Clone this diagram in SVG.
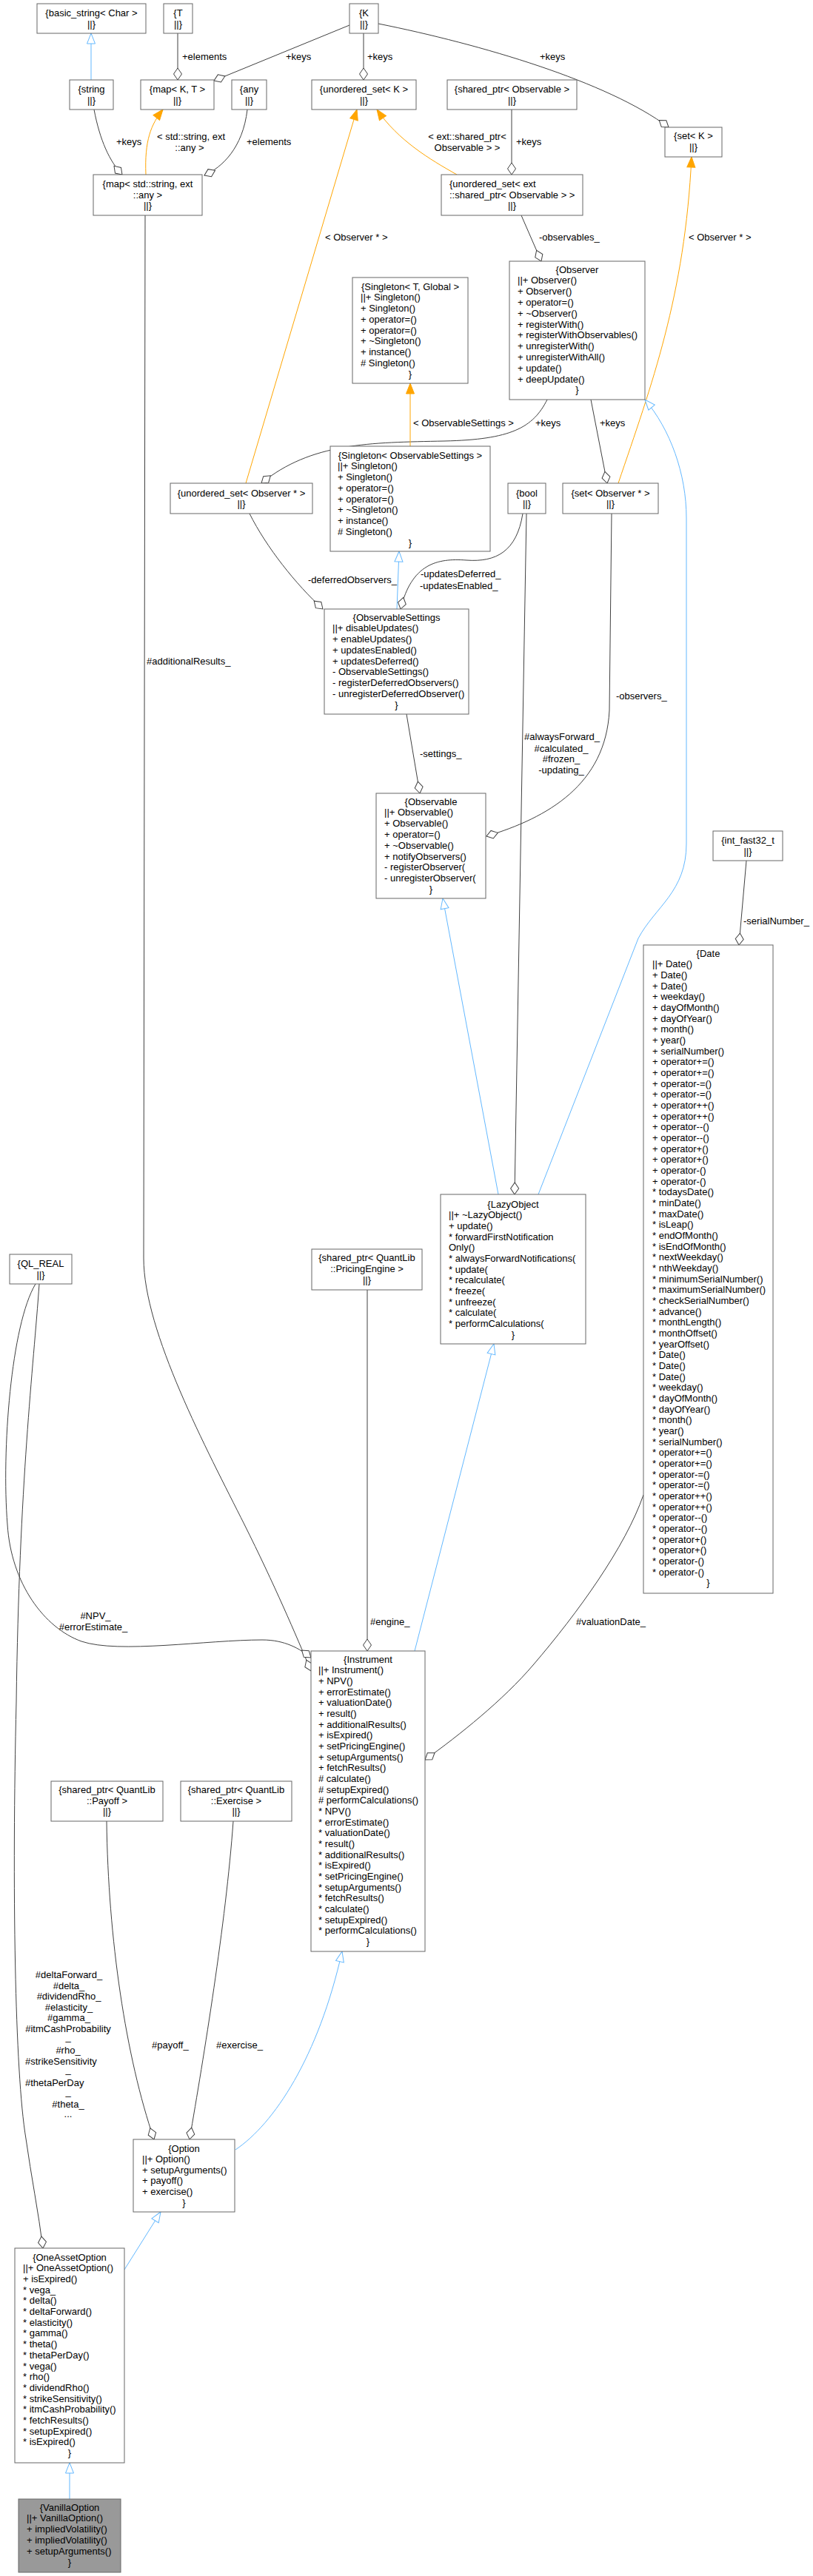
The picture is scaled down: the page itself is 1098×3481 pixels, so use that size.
<svg xmlns="http://www.w3.org/2000/svg" width="1098" height="3481" viewBox="0 0 1098 3481">
<style>
text{font-family:"Liberation Sans",Arial,Helvetica,sans-serif;font-size:13px;fill:#000}
.c{text-anchor:middle}
.n rect{fill:#fff;stroke:#666;stroke-width:1}
.hl rect{fill:#999;stroke:#666;stroke-width:1}
.e{fill:none;stroke:#404040;stroke-width:1}
.i{fill:none;stroke:#63b8ff;stroke-width:1}
.t{fill:none;stroke:#ffa500;stroke-width:1}
.e{marker-end:url(#dia)}
.i{marker-end:url(#inh)}
.t{marker-end:url(#tpl)}
</style>
<defs>
<marker id="dia" viewBox="-18 -7 20 14" refX="0" refY="0" markerWidth="20" markerHeight="14" markerUnits="userSpaceOnUse" orient="auto"><path d="M0,0 L-8,-5.5 L-16,0 L-8,5.5 Z" fill="#fff" stroke="#404040"/></marker>
<marker id="inh" viewBox="-16 -7 18 14" refX="0" refY="0" markerWidth="18" markerHeight="14" markerUnits="userSpaceOnUse" orient="auto"><path d="M0,0 L-14,-5.5 L-14,5.5 Z" fill="#fff" stroke="#63b8ff"/></marker>
<marker id="tpl" viewBox="-16 -7 18 14" refX="0" refY="0" markerWidth="18" markerHeight="14" markerUnits="userSpaceOnUse" orient="auto"><path d="M0,0 L-14,-5.5 L-14,5.5 Z" fill="#ffa500" stroke="#ffa500"/></marker>
</defs>
<rect x="0" y="0" width="1098" height="3481" fill="#fff"/>

<g id="edges">
<path class="i" d="M123,108 L123,45"/>
<path class="e" d="M240,45 L240,108"/>
<text x="246" y="80.5">+elements</text>
<path class="e" d="M472,34 L289,109"/>
<text x="386" y="80.5">+keys</text>
<path class="e" d="M491,45 L491,108"/>
<text x="496" y="80.5">+keys</text>
<path class="e" d="M511,32 C650,60 820,110 903,172"/>
<text x="729" y="80.5">+keys</text>
<path class="e" d="M691,148 L691,236"/>
<text x="697" y="195.5">+keys</text>
<path class="e" d="M127,148 C135,190 148,218 165,236"/>
<text x="157" y="195.5">+keys</text>
<path class="e" d="M334,148 C328,200 300,226 276,237"/>
<text x="333" y="195.5">+elements</text>
<path class="t" d="M197,236 C195,190 204,168 220,148"/>
<text class="c" x="258" y="188.5">&lt; std::string, ext</text>
<text class="c" x="256" y="203.5">::any &gt;</text>
<path class="t" d="M617,236 C580,215 538,190 509,148"/>
<text class="c" x="631" y="188.5">&lt; ext::shared_ptr&lt;</text>
<text class="c" x="631" y="203.5">Observable &gt; &gt;</text>
<path class="t" d="M332,653 L482,148"/>
<text x="439" y="324.5">&lt; Observer * &gt;</text>
<path class="t" d="M835,653 C880,520 925,400 934,212"/>
<text x="930" y="324.5">&lt; Observer * &gt;</text>
<path class="e" d="M704,291 L731,353"/>
<text x="728" y="324.5">-observables_</text>
<path class="e" d="M739,540 C720,578 690,594 600,596 C500,598 420,598 353,653"/>
<text x="723" y="575.5">+keys</text>
<path class="e" d="M798,540 L820,653"/>
<text x="810" y="575.5">+keys</text>
<path class="t" d="M554,603 L554,518"/>
<text x="558" y="575.5">&lt; ObservableSettings &gt;</text>
<path class="e" d="M337,694 C360,740 400,790 436,823"/>
<text x="416" y="787.5">-deferredObservers_</text>
<path class="i" d="M536,823 L539,745"/>
<path class="e" d="M706,694 C698,745 670,760 630,757 C590,754 556,762 541,823"/>
<text x="568" y="779.5">-updatesDeferred_</text>
<text x="567" y="795.5">-updatesEnabled_</text>
<path class="e" d="M711,694 L695,1614"/>
<text class="c" x="759" y="999.5">#alwaysForward_</text>
<text class="c" x="758" y="1015.5">#calculated_</text>
<text class="c" x="758" y="1029.5">#frozen_</text>
<text class="c" x="758" y="1044.5">-updating_</text>
<path class="e" d="M549,965 L567,1072"/>
<text x="567" y="1022.5">-settings_</text>
<path class="e" d="M826,694 L823,960 C818,1060 740,1105 657,1130"/>
<text x="832" y="944.5">-observers_</text>
<path class="i" d="M673,1614 L598,1214"/>
<path class="i" d="M727,1614 L862,1268 C885,1225 927,1205 927,1140 L927,700 C927,640 905,580 871,540"/>
<path class="e" d="M1008,1163 L998,1277"/>
<text x="1004" y="1248.5">-serialNumber_</text>
<path class="e" d="M196,291 L194,1700 C194,1800 280,1960 330,2060 C370,2140 400,2210 420,2258"/>
<text x="198" y="897.5">#additionalResults_</text>
<path class="e" d="M48,1735 C15,1790 2,1960 10,2060 C15,2140 60,2200 110,2218 C160,2235 280,2216 354,2216 C385,2216 405,2228 420,2240"/>
<text class="c" x="129" y="2187.5">#NPV_</text>
<text class="c" x="126" y="2202.5">#errorEstimate_</text>
<path class="e" d="M53,1735 C45,1850 26,2000 22,2300 C16,2550 20,2800 35,2890 C42,2940 52,2990 58,3038"/>
<text class="c" x="93" y="2672.5">#deltaForward_</text>
<text class="c" x="93" y="2687.5">#delta_</text>
<text class="c" x="93" y="2701.5">#dividendRho_</text>
<text class="c" x="93" y="2716.5">#elasticity_</text>
<text class="c" x="93" y="2730.5">#gamma_</text>
<text class="c" x="92" y="2745.5">#itmCashProbability</text>
<text class="c" x="92" y="2757">_</text>
<text class="c" x="92" y="2774.5">#rho_</text>
<text x="34" y="2789.5">#strikeSensitivity</text>
<text class="c" x="92" y="2801">_</text>
<text x="34" y="2818.5">#thetaPerDay</text>
<text class="c" x="92" y="2831">_</text>
<text class="c" x="92" y="2847.5">#theta_</text>
<text class="c" x="92" y="2861">...</text>
<path class="i" d="M560,2231 L667,1816"/>
<path class="e" d="M496,1743 L496,2231"/>
<text x="500" y="2195.5">#engine_</text>
<path class="e" d="M869,2020 C845,2090 780,2180 720,2250 C680,2297 620,2345 574,2378"/>
<text x="778" y="2195.5">#valuationDate_</text>
<path class="e" d="M144,2461 C146,2620 170,2780 208,2891"/>
<text x="205" y="2767.5">#payoff_</text>
<path class="e" d="M315,2461 C305,2600 275,2780 256,2891"/>
<text x="292" y="2767.5">#exercise_</text>
<path class="i" d="M318,2905 C370,2870 430,2780 462,2637"/>
<path class="i" d="M168,3067 L217,2989"/>
<path class="i" d="M94,3377 L94,3328"/>
</g>

<g id="basic_string" class="n"><rect x="50" y="5" width="147" height="40"/><text class="c" x="123.5" y="21.5">{basic_string&lt; Char &gt;</text><text class="c" x="123.5" y="36.5">||}</text></g>
<g id="T" class="n"><rect x="221" y="5" width="39" height="40"/><text class="c" x="240.5" y="21.5">{T</text><text class="c" x="240.5" y="36.5">||}</text></g>
<g id="K" class="n"><rect x="472" y="5" width="39" height="40"/><text class="c" x="491.5" y="21.5">{K</text><text class="c" x="491.5" y="36.5">||}</text></g>
<g id="string" class="n"><rect x="94" y="108" width="59" height="40"/><text class="c" x="123.5" y="124.5">{string</text><text class="c" x="123.5" y="139.5">||}</text></g>
<g id="map_K_T" class="n"><rect x="190" y="108" width="99" height="40"/><text class="c" x="239.5" y="124.5">{map&lt; K, T &gt;</text><text class="c" x="239.5" y="139.5">||}</text></g>
<g id="any" class="n"><rect x="313" y="108" width="47" height="40"/><text class="c" x="336.5" y="124.5">{any</text><text class="c" x="336.5" y="139.5">||}</text></g>
<g id="unordered_set_K" class="n"><rect x="421" y="108" width="141" height="40"/><text class="c" x="491.5" y="124.5">{unordered_set&lt; K &gt;</text><text class="c" x="491.5" y="139.5">||}</text></g>
<g id="shared_ptr_Observable" class="n"><rect x="604" y="108" width="175" height="40"/><text class="c" x="691.5" y="124.5">{shared_ptr&lt; Observable &gt;</text><text class="c" x="691.5" y="139.5">||}</text></g>
<g id="set_K" class="n"><rect x="898" y="172" width="77" height="40"/><text class="c" x="936.5" y="187.5">{set&lt; K &gt;</text><text class="c" x="936.5" y="203">||}</text></g>
<g id="map_string_any" class="n"><rect x="126" y="236" width="147" height="55"/><text class="c" x="199.5" y="252.5">{map&lt; std::string, ext</text><text class="c" x="199.5" y="267.5">::any &gt;</text><text class="c" x="199.5" y="281.5">||}</text></g>
<g id="unordered_set_shared_ptr_Observable" class="n"><rect x="596" y="236" width="191" height="55"/><text x="607" y="252.5">{unordered_set&lt; ext</text><text x="607" y="267.5">::shared_ptr&lt; Observable &gt; &gt;</text><text class="c" x="691.5" y="281.5">||}</text></g>

<g id="Observer" class="n"><rect x="688" y="353" width="183" height="187"/>
<text class="c" x="779.5" y="368.5">{Observer</text>
<text x="699" y="383.3">||+ Observer()</text>
<text x="699" y="398.1">+ Observer()</text>
<text x="699" y="412.9">+ operator=()</text>
<text x="699" y="427.7">+ ~Observer()</text>
<text x="699" y="442.5">+ registerWith()</text>
<text x="699" y="457.3">+ registerWithObservables()</text>
<text x="699" y="472.1">+ unregisterWith()</text>
<text x="699" y="486.9">+ unregisterWithAll()</text>
<text x="699" y="501.7">+ update()</text>
<text x="699" y="516.5">+ deepUpdate()</text>
<text class="c" x="779.5" y="531.3">}</text></g>

<g id="Singleton_T_Global" class="n"><rect x="476" y="375" width="156" height="143"/>
<text class="c" x="554" y="391.5">{Singleton&lt; T, Global &gt;</text>
<text x="487" y="406.3">||+ Singleton()</text>
<text x="487" y="421">+ Singleton()</text>
<text x="487" y="435.8">+ operator=()</text>
<text x="487" y="450.5">+ operator=()</text>
<text x="487" y="465.3">+ ~Singleton()</text>
<text x="487" y="480">+ instance()</text>
<text x="487" y="494.8"># Singleton()</text>
<text class="c" x="554" y="509.5">}</text></g>

<g id="unordered_set_Observer" class="n"><rect x="230" y="653" width="192" height="41"/><text class="c" x="326" y="670.5">{unordered_set&lt; Observer * &gt;</text><text class="c" x="326" y="685">||}</text></g>

<g id="Singleton_ObservableSettings" class="n"><rect x="446" y="603" width="216" height="142"/>
<text class="c" x="554" y="619.5">{Singleton&lt; ObservableSettings &gt;</text>
<text x="456" y="634.3">||+ Singleton()</text>
<text x="456" y="649">+ Singleton()</text>
<text x="456" y="663.8">+ operator=()</text>
<text x="456" y="678.5">+ operator=()</text>
<text x="456" y="693.3">+ ~Singleton()</text>
<text x="456" y="708">+ instance()</text>
<text x="456" y="722.8"># Singleton()</text>
<text class="c" x="554" y="737.5">}</text></g>

<g id="bool" class="n"><rect x="686" y="653" width="51" height="41"/><text class="c" x="711.5" y="670.5">{bool</text><text class="c" x="711.5" y="685">||}</text></g>
<g id="set_Observer" class="n"><rect x="760" y="653" width="129" height="41"/><text class="c" x="824.5" y="670.5">{set&lt; Observer * &gt;</text><text class="c" x="824.5" y="685">||}</text></g>

<g id="ObservableSettings" class="n"><rect x="438" y="823" width="195" height="142"/>
<text class="c" x="535.5" y="838.5">{ObservableSettings</text>
<text x="449" y="853.3">||+ disableUpdates()</text>
<text x="449" y="868">+ enableUpdates()</text>
<text x="449" y="882.8">+ updatesEnabled()</text>
<text x="449" y="897.5">+ updatesDeferred()</text>
<text x="449" y="912.3">- ObservableSettings()</text>
<text x="449" y="927">- registerDeferredObservers()</text>
<text x="449" y="941.8">- unregisterDeferredObserver()</text>
<text class="c" x="535.5" y="956.5">}</text></g>

<g id="Observable" class="n"><rect x="508" y="1072" width="148" height="142"/>
<text class="c" x="582" y="1087.5">{Observable</text>
<text x="519" y="1102.4">||+ Observable()</text>
<text x="519" y="1117.2">+ Observable()</text>
<text x="519" y="1132">+ operator=()</text>
<text x="519" y="1146.8">+ ~Observable()</text>
<text x="519" y="1161.6">+ notifyObservers()</text>
<text x="519" y="1176.4">- registerObserver(</text>
<text x="519" y="1191.2">- unregisterObserver(</text>
<text class="c" x="582" y="1206">}</text></g>

<g id="int_fast32_t" class="n"><rect x="963" y="1123" width="94" height="40"/><text class="c" x="1010" y="1139.5">{int_fast32_t</text><text class="c" x="1010" y="1154.5">||}</text></g>

<g id="Date" class="n"><rect x="869" y="1277" width="175" height="876"/>
<text class="c" x="956.5" y="1292.5">{Date</text>
<text x="881" y="1307.2">||+ Date()</text>
<text x="881" y="1321.8">+ Date()</text>
<text x="881" y="1336.5">+ Date()</text>
<text x="881" y="1351.2">+ weekday()</text>
<text x="881" y="1365.9">+ dayOfMonth()</text>
<text x="881" y="1380.5">+ dayOfYear()</text>
<text x="881" y="1395.2">+ month()</text>
<text x="881" y="1409.9">+ year()</text>
<text x="881" y="1424.5">+ serialNumber()</text>
<text x="881" y="1439.2">+ operator+=()</text>
<text x="881" y="1453.9">+ operator+=()</text>
<text x="881" y="1468.5">+ operator-=()</text>
<text x="881" y="1483.2">+ operator-=()</text>
<text x="881" y="1497.9">+ operator++()</text>
<text x="881" y="1512.6">+ operator++()</text>
<text x="881" y="1527.2">+ operator--()</text>
<text x="881" y="1541.9">+ operator--()</text>
<text x="881" y="1556.6">+ operator+()</text>
<text x="881" y="1571.2">+ operator+()</text>
<text x="881" y="1585.9">+ operator-()</text>
<text x="881" y="1600.6">+ operator-()</text>
<text x="881" y="1615.2">* todaysDate()</text>
<text x="881" y="1629.9">* minDate()</text>
<text x="881" y="1644.6">* maxDate()</text>
<text x="881" y="1659.3">* isLeap()</text>
<text x="881" y="1673.9">* endOfMonth()</text>
<text x="881" y="1688.6">* isEndOfMonth()</text>
<text x="881" y="1703.3">* nextWeekday()</text>
<text x="881" y="1717.9">* nthWeekday()</text>
<text x="881" y="1732.6">* minimumSerialNumber()</text>
<text x="881" y="1747.3">* maximumSerialNumber()</text>
<text x="881" y="1761.9">* checkSerialNumber()</text>
<text x="881" y="1776.6">* advance()</text>
<text x="881" y="1791.3">* monthLength()</text>
<text x="881" y="1806">* monthOffset()</text>
<text x="881" y="1820.6">* yearOffset()</text>
<text x="881" y="1835.3">* Date()</text>
<text x="881" y="1850">* Date()</text>
<text x="881" y="1864.6">* Date()</text>
<text x="881" y="1879.3">* weekday()</text>
<text x="881" y="1894">* dayOfMonth()</text>
<text x="881" y="1908.6">* dayOfYear()</text>
<text x="881" y="1923.3">* month()</text>
<text x="881" y="1938">* year()</text>
<text x="881" y="1952.7">* serialNumber()</text>
<text x="881" y="1967.3">* operator+=()</text>
<text x="881" y="1982">* operator+=()</text>
<text x="881" y="1996.7">* operator-=()</text>
<text x="881" y="2011.3">* operator-=()</text>
<text x="881" y="2026">* operator++()</text>
<text x="881" y="2040.7">* operator++()</text>
<text x="881" y="2055.3">* operator--()</text>
<text x="881" y="2070">* operator--()</text>
<text x="881" y="2084.7">* operator+()</text>
<text x="881" y="2099.4">* operator+()</text>
<text x="881" y="2114">* operator-()</text>
<text x="881" y="2128.7">* operator-()</text>
<text class="c" x="956.5" y="2143.4">}</text></g>

<g id="LazyObject" class="n"><rect x="595" y="1614" width="196" height="202"/>
<text class="c" x="693" y="1631.5">{LazyObject</text>
<text x="606" y="1646.2">||+ ~LazyObject()</text>
<text x="606" y="1660.8">+ update()</text>
<text x="606" y="1675.5">* forwardFirstNotification</text>
<text x="606" y="1690.2">Only()</text>
<text x="606" y="1704.9">* alwaysForwardNotifications(</text>
<text x="606" y="1719.5">* update(</text>
<text x="606" y="1734.2">* recalculate(</text>
<text x="606" y="1748.9">* freeze(</text>
<text x="606" y="1763.5">* unfreeze(</text>
<text x="606" y="1778.2">* calculate(</text>
<text x="606" y="1792.9">* performCalculations(</text>
<text class="c" x="693" y="1807.5">}</text></g>

<g id="QL_REAL" class="n"><rect x="13" y="1695" width="84" height="40"/><text class="c" x="55" y="1711.5">{QL_REAL</text><text class="c" x="55" y="1726.5">||}</text></g>
<g id="shared_ptr_PricingEngine" class="n"><rect x="421" y="1688" width="149" height="55"/><text class="c" x="495.5" y="1703.5">{shared_ptr&lt; QuantLib</text><text class="c" x="495.5" y="1719">::PricingEngine &gt;</text><text class="c" x="495.5" y="1733.5">||}</text></g>

<g id="Instrument" class="n"><rect x="420" y="2231" width="154" height="406"/>
<text class="c" x="497" y="2246.5">{Instrument</text>
<text x="430" y="2261.2">||+ Instrument()</text>
<text x="430" y="2275.8">+ NPV()</text>
<text x="430" y="2290.5">+ errorEstimate()</text>
<text x="430" y="2305.2">+ valuationDate()</text>
<text x="430" y="2319.9">+ result()</text>
<text x="430" y="2334.5">+ additionalResults()</text>
<text x="430" y="2349.2">+ isExpired()</text>
<text x="430" y="2363.9">+ setPricingEngine()</text>
<text x="430" y="2378.5">+ setupArguments()</text>
<text x="430" y="2393.2">+ fetchResults()</text>
<text x="430" y="2407.9"># calculate()</text>
<text x="430" y="2422.5"># setupExpired()</text>
<text x="430" y="2437.2"># performCalculations()</text>
<text x="430" y="2451.9">* NPV()</text>
<text x="430" y="2466.6">* errorEstimate()</text>
<text x="430" y="2481.2">* valuationDate()</text>
<text x="430" y="2495.9">* result()</text>
<text x="430" y="2510.6">* additionalResults()</text>
<text x="430" y="2525.2">* isExpired()</text>
<text x="430" y="2539.9">* setPricingEngine()</text>
<text x="430" y="2554.6">* setupArguments()</text>
<text x="430" y="2569.2">* fetchResults()</text>
<text x="430" y="2583.9">* calculate()</text>
<text x="430" y="2598.6">* setupExpired()</text>
<text x="430" y="2613.3">* performCalculations()</text>
<text class="c" x="497" y="2627.9">}</text></g>

<g id="shared_ptr_Payoff" class="n"><rect x="69" y="2407" width="151" height="54"/><text class="c" x="144.5" y="2422.5">{shared_ptr&lt; QuantLib</text><text class="c" x="144.5" y="2437.5">::Payoff &gt;</text><text class="c" x="144.5" y="2451.5">||}</text></g>
<g id="shared_ptr_Exercise" class="n"><rect x="244" y="2407" width="150" height="54"/><text class="c" x="319" y="2422.5">{shared_ptr&lt; QuantLib</text><text class="c" x="319" y="2437.5">::Exercise &gt;</text><text class="c" x="319" y="2451.5">||}</text></g>

<g id="Option" class="n"><rect x="180" y="2891" width="137" height="98"/>
<text class="c" x="248.5" y="2907.5">{Option</text>
<text x="192" y="2922.1">||+ Option()</text>
<text x="192" y="2936.7">+ setupArguments()</text>
<text x="192" y="2951.3">+ payoff()</text>
<text x="192" y="2965.9">+ exercise()</text>
<text class="c" x="248.5" y="2980.5">}</text></g>

<g id="OneAssetOption" class="n"><rect x="20" y="3038" width="148" height="290"/>
<text class="c" x="94" y="3054.5">{OneAssetOption</text>
<text x="31" y="3069.2">||+ OneAssetOption()</text>
<text x="31" y="3083.9">+ isExpired()</text>
<text x="31" y="3098.6">* vega_</text>
<text x="31" y="3113.3">* delta()</text>
<text x="31" y="3128">* deltaForward()</text>
<text x="31" y="3142.7">* elasticity()</text>
<text x="31" y="3157.4">* gamma()</text>
<text x="31" y="3172.1">* theta()</text>
<text x="31" y="3186.8">* thetaPerDay()</text>
<text x="31" y="3201.5">* vega()</text>
<text x="31" y="3216.2">* rho()</text>
<text x="31" y="3230.9">* dividendRho()</text>
<text x="31" y="3245.6">* strikeSensitivity()</text>
<text x="31" y="3260.3">* itmCashProbability()</text>
<text x="31" y="3275">* fetchResults()</text>
<text x="31" y="3289.7">* setupExpired()</text>
<text x="31" y="3304.4">* isExpired()</text>
<text class="c" x="94" y="3319.1">}</text></g>

<g id="VanillaOption" class="hl"><rect x="25" y="3377" width="138" height="99"/>
<text class="c" x="94" y="3392.5">{VanillaOption</text>
<text x="36" y="3407.3">||+ VanillaOption()</text>
<text x="36" y="3422.1">+ impliedVolatility()</text>
<text x="36" y="3436.9">+ impliedVolatility()</text>
<text x="36" y="3451.7">+ setupArguments()</text>
<text class="c" x="94" y="3466.5">}</text></g>
</svg>
